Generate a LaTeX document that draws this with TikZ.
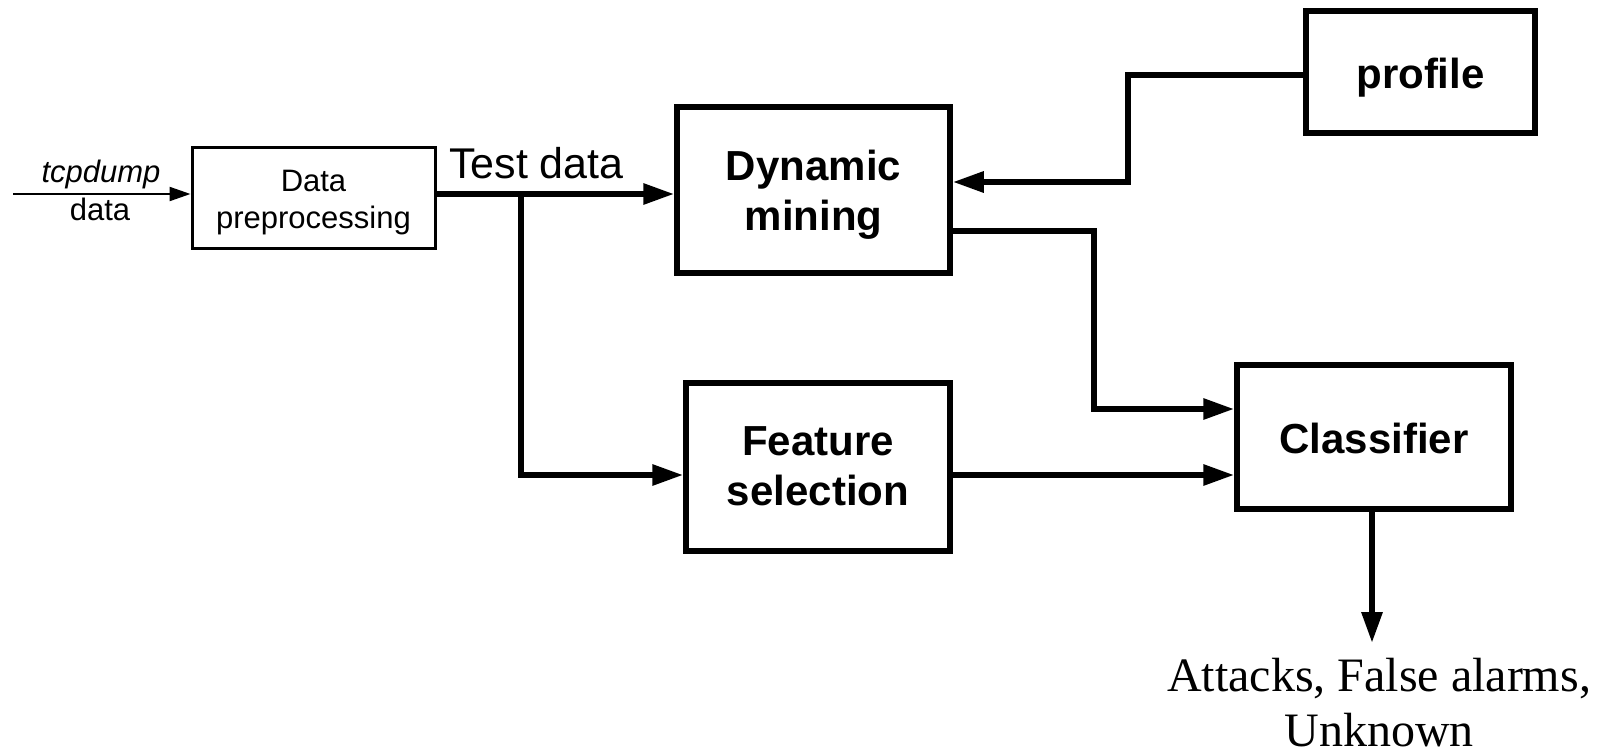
\documentclass[tikz,border=0pt]{standalone}
\usepackage{fontspec}
\setmainfont{Liberation Serif}
\setsansfont{Liberation Sans}
\usetikzlibrary{arrows.meta}
\begin{document}
\begin{tikzpicture}[x=1pt,y=-1pt,
  bigbox/.style={draw,line width=5.5pt,rectangle,inner sep=0pt,align=center,
    font=\sffamily\bfseries\fontsize{42}{50}\selectfont},
  smallbox/.style={draw,line width=3pt,rectangle,inner sep=0pt,align=center,
    font=\sffamily\fontsize{31}{37}\selectfont},
  conn/.style={line width=6pt,-{Triangle[length=31pt,width=20pt]}},
  thinarrow/.style={line width=2.2pt,-{Triangle[length=21pt,width=14pt]}},
  lbl/.style={font=\sffamily\fontsize{31}{37}\selectfont,inner sep=0pt}]
\useasboundingbox (0,0) rectangle (1600,752);

% boxes
\node[smallbox,minimum width=243pt,minimum height=101pt] (pre) at (313.5,197.5)
  {\raisebox{-5pt}[\height][\depth]{\begin{tabular}{@{}c@{}}Data\\preprocessing\end{tabular}}};
\node[bigbox,minimum width=273pt,minimum height=166pt] (dm) at (813.5,190)
  {\raisebox{-5pt}[\height][\depth]{\begin{tabular}{@{}c@{}}Dynamic\\mining\end{tabular}}};
\node[bigbox,minimum width=229pt,minimum height=122pt] (pr) at (1420.5,72)
  {\raisebox{-6pt}[\height][\depth]{profile}};
\node[bigbox,minimum width=264pt,minimum height=168pt] (fs) at (818,467)
  {\raisebox{-3pt}[\height][\depth]{\begin{tabular}{@{}c@{}}Feature\\selection\end{tabular}}};
\node[bigbox,minimum width=274pt,minimum height=144pt] (cl) at (1374,437)
  {\raisebox{-1pt}[\height][\depth]{Classifier}};

% labels
\node[lbl,anchor=base,font=\sffamily\itshape\fontsize{31}{37}\selectfont] (tcp) at (101,182) {tcpdump};
\node[lbl,anchor=base] (tcpd) at (100,220) {data};
\node[inner sep=0pt,anchor=base west,font=\sffamily\fontsize{43}{50}\selectfont] (td) at (449,178) {Test data};
\node[inner sep=0pt,align=center,font=\fontsize{48}{55}\selectfont] (res) at (1379,702.5) {Attacks, False alarms,\\Unknown};

% coordinates
\coordinate (in) at (13,194);
\coordinate (br) at (521,194);
\coordinate (fy) at (521,475);
\coordinate (pa) at (1128,75);
\coordinate (pb) at (1128,182);
\coordinate (qa) at (1094,231);
\coordinate (qb) at (1094,409);
\coordinate (out) at (1372,643);

% connectors
\draw[thinarrow] (in) -- (in -| pre.west);
\draw[conn] (in -| pre.east) -- (in -| dm.west);
\draw[conn] (br) -- (fy) -- (fy -| fs.west);
\draw[conn] (pa -| pr.west) -- (pa) -- (pb) -- (pb -| dm.east);
\draw[conn] (qa -| dm.east) -- (qa) -- (qb) -- (qb -| cl.west);
\draw[conn] (fy -| fs.east) -- (fy -| cl.west);
\draw[conn] (out |- cl.south) -- (out);
\end{tikzpicture}
\end{document}
